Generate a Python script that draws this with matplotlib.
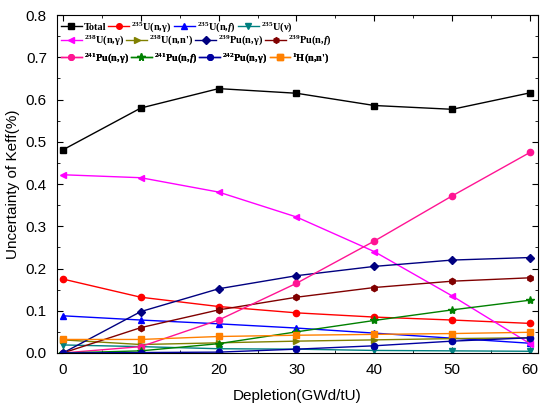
import matplotlib
matplotlib.use('Agg')
import matplotlib.pyplot as plt
from matplotlib.ticker import MultipleLocator

plt.rcParams['font.family'] = 'Liberation Sans'
plt.rcParams['mathtext.fontset'] = 'custom'
plt.rcParams['mathtext.rm'] = 'Liberation Serif:bold'
plt.rcParams['mathtext.it'] = 'Liberation Serif:italic:bold'
plt.rcParams['mathtext.bf'] = 'Liberation Serif:bold'

depletion = [0, 10, 20, 30, 40, 50, 60]

total = [0.481, 0.580, 0.626, 0.615, 0.586, 0.577, 0.616]
u235_ng = [0.175, 0.132, 0.110, 0.095, 0.085, 0.078, 0.070]
u235_nf = [0.088, 0.078, 0.069, 0.059, 0.047, 0.035, 0.023]
u235_nu = [0.019, 0.015, 0.010, 0.009, 0.006, 0.005, 0.004]
u238_ng = [0.422, 0.415, 0.381, 0.322, 0.240, 0.135, 0.022]
u238_nn = [0.031, 0.020, 0.024, 0.028, 0.031, 0.034, 0.036]
pu239_ng = [0.000, 0.098, 0.152, 0.183, 0.205, 0.220, 0.226]
pu239_nf = [0.000, 0.060, 0.102, 0.132, 0.155, 0.170, 0.178]
pu241_ng = [0.000, 0.015, 0.078, 0.165, 0.265, 0.372, 0.475]
pu241_nf = [0.000, 0.005, 0.022, 0.050, 0.077, 0.102, 0.125]
pu242_ng = [0.000, 0.001, 0.002, 0.009, 0.017, 0.028, 0.036]
h1_nn = [0.032, 0.032, 0.039, 0.042, 0.044, 0.046, 0.049]

series = [
    ('Total', total, 'black', 's'),
    (r'$^{235}$U(n,γ)', u235_ng, 'red', 'o'),
    (r'$^{235}$U(n,$f$)', u235_nf, 'blue', '^'),
    (r'$^{235}$U(ν)', u235_nu, '#008080', 'v'),
    (r'$^{238}$U(n,γ)', u238_ng, 'magenta', '<'),
    (r"$^{238}$U(n,n')", u238_nn, '#808000', '>'),
    (r'$^{239}$Pu(n,γ)', pu239_ng, '#000080', 'D'),
    (r'$^{239}$Pu(n,$f$)', pu239_nf, '#800000', 'h'),
    (r'$^{241}$Pu(n,γ)', pu241_ng, '#FF1493', 'o'),
    (r'$^{241}$Pu(n,$f$)', pu241_nf, '#008000', '*'),
    (r'$^{242}$Pu(n,γ)', pu242_ng, '#0000A0', 'o'),
    (r"$^{1}$H(n,n')", h1_nn, '#FF8000', 's'),
]

fig = plt.figure(figsize=(5.4, 4.09), dpi=100)
ax = fig.add_axes([0.105, 0.137, 0.891, 0.826])

handles = []
for label, vals, color, mk in series:
    ms = 6 if mk == '*' else 4.5
    if mk == 'D':
        ms = 4
    h, = ax.plot(depletion, vals, color=color, marker=mk, markersize=ms, lw=1.0, label=label)
    handles.append(h)

ax.set_xlim(-0.8, 61)
ax.set_ylim(0, 0.8)
ax.xaxis.set_major_locator(MultipleLocator(10))
ax.xaxis.set_minor_locator(MultipleLocator(5))
ax.yaxis.set_major_locator(MultipleLocator(0.1))
ax.yaxis.set_minor_locator(MultipleLocator(0.05))
ax.tick_params(which='both', direction='in', top=True, right=True, labelsize=11)
ax.tick_params(which='major', length=4)
ax.tick_params(which='minor', length=2)
ax.tick_params(axis='y', pad=7)
ax.tick_params(axis='x', pad=7)
ax.set_yticks([0.0, 0.1, 0.2, 0.3, 0.4, 0.5, 0.6, 0.7, 0.8])
ax.set_yticklabels(['0.0', '0.1', '0.2', '0.3', '0.4', '0.5', '0.6', '0.7', '0.8'])
ax.set_xlabel('Depletion(GWd/tU)', fontsize=11, labelpad=9)
ax.set_ylabel('Uncertainty of Keff(%)', fontsize=11, labelpad=4)

rows_y = [0.965, 0.925, 0.874]
for i, y in enumerate(rows_y):
    hs = handles[i * 4:(i + 1) * 4]
    leg = ax.legend(hs, [h.get_label() for h in hs], loc='center left',
                    bbox_to_anchor=(0.0, y), ncol=4, frameon=False,
                    prop={'family': 'Liberation Serif', 'weight': 'bold', 'size': 7.5},
                    handlelength=2.0, handletextpad=0.2, columnspacing=0.2,
                    borderpad=0.2, borderaxespad=0.2, markerscale=0.9)
    ax.add_artist(leg)

fig.savefig('out.png', dpi=100)
